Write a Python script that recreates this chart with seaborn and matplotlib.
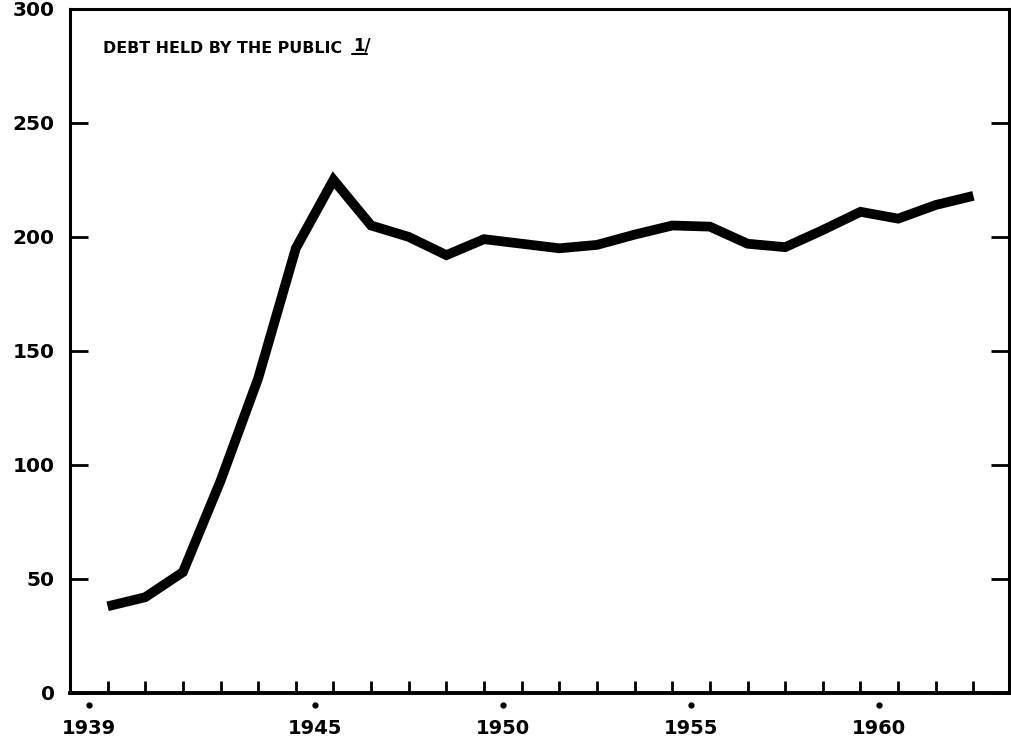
import numpy as np
import pandas as pd
import matplotlib
matplotlib.use("Agg")
import matplotlib.pyplot as plt
import seaborn as sns

# Debt held by the public, billions of dollars, fiscal years (June 30)
years = [1939, 1940, 1941, 1942, 1943, 1944, 1945, 1946, 1947, 1948, 1949, 1950,
         1951, 1952, 1953, 1954, 1955, 1956, 1957, 1958, 1959, 1960, 1961, 1962]
debt = [38, 42, 53, 93, 138, 195, 225, 205, 200, 192, 199, 197,
        195, 196.5, 201, 205, 204.5, 197, 195.5, 203, 211, 208, 214, 218]
label_years = [1939, 1945, 1950, 1955, 1960]
y_ticks = [0, 50, 100, 150, 200, 250, 300]
title = "DEBT HELD BY THE PUBLIC"
footnote = "1/"

sns.set_style("ticks")
plt.rcParams['font.family'] = ['DejaVu Sans']
plt.rcParams['text.color'] = 'black'
plt.rcParams['xtick.color'] = 'black'
plt.rcParams['ytick.color'] = 'black'

df = pd.DataFrame({"year": np.array(years) + 0.5, "debt": debt})

fig = plt.figure(figsize=(10.11, 7.38), dpi=100)
ax = fig.add_axes([0.0692, 0.061, 0.929, 0.927])

sns.lineplot(data=df, x="year", y="debt", ax=ax, color="black", linewidth=7,
             solid_joinstyle="miter", solid_capstyle="butt")

ax.set_xlim(1938.5, 1963.45)
ax.set_ylim(0, 300)

for s in ax.spines.values():
    s.set_linewidth(2.2)
    s.set_color("black")
ax.spines["bottom"].set_linewidth(2.8)

# y axis: inward ticks both sides
ax.set_yticks(y_ticks)
ax.tick_params(axis="y", direction="in", length=13, width=2, left=True, right=True,
               labelsize=14.5, pad=11)
for lab in ax.get_yticklabels():
    lab.set_fontweight("bold")

# x axis: labels at round years, inward ticks at every fiscal year
ax.set_xticks(label_years)
ax.set_xticklabels([str(y) for y in label_years], fontsize=14, fontweight="bold")
ax.tick_params(axis="x", which="major", length=0, pad=19)
ax.set_xticks(np.array(years) + 0.5, minor=True)
ax.tick_params(axis="x", which="minor", direction="in", length=9, width=2,
               bottom=True, top=False)

# small dots above the year labels
ax.plot(label_years, [-0.018] * len(label_years), "o", color="black", markersize=3.5,
        transform=ax.get_xaxis_transform(), clip_on=False)

ax.set_xlabel("")
ax.set_ylabel("")

ax.text(0.035, 0.942, title, transform=ax.transAxes, fontsize=11.4,
        fontweight="bold", va="center", ha="left")
ax.text(0.302, 0.946, footnote, transform=ax.transAxes, fontsize=12,
        fontweight="bold", va="center", ha="left")
ax.plot([0.300, 0.316], [0.934, 0.934], color="black", linewidth=1.5,
        transform=ax.transAxes)

fig.savefig("out.png", dpi=100)
